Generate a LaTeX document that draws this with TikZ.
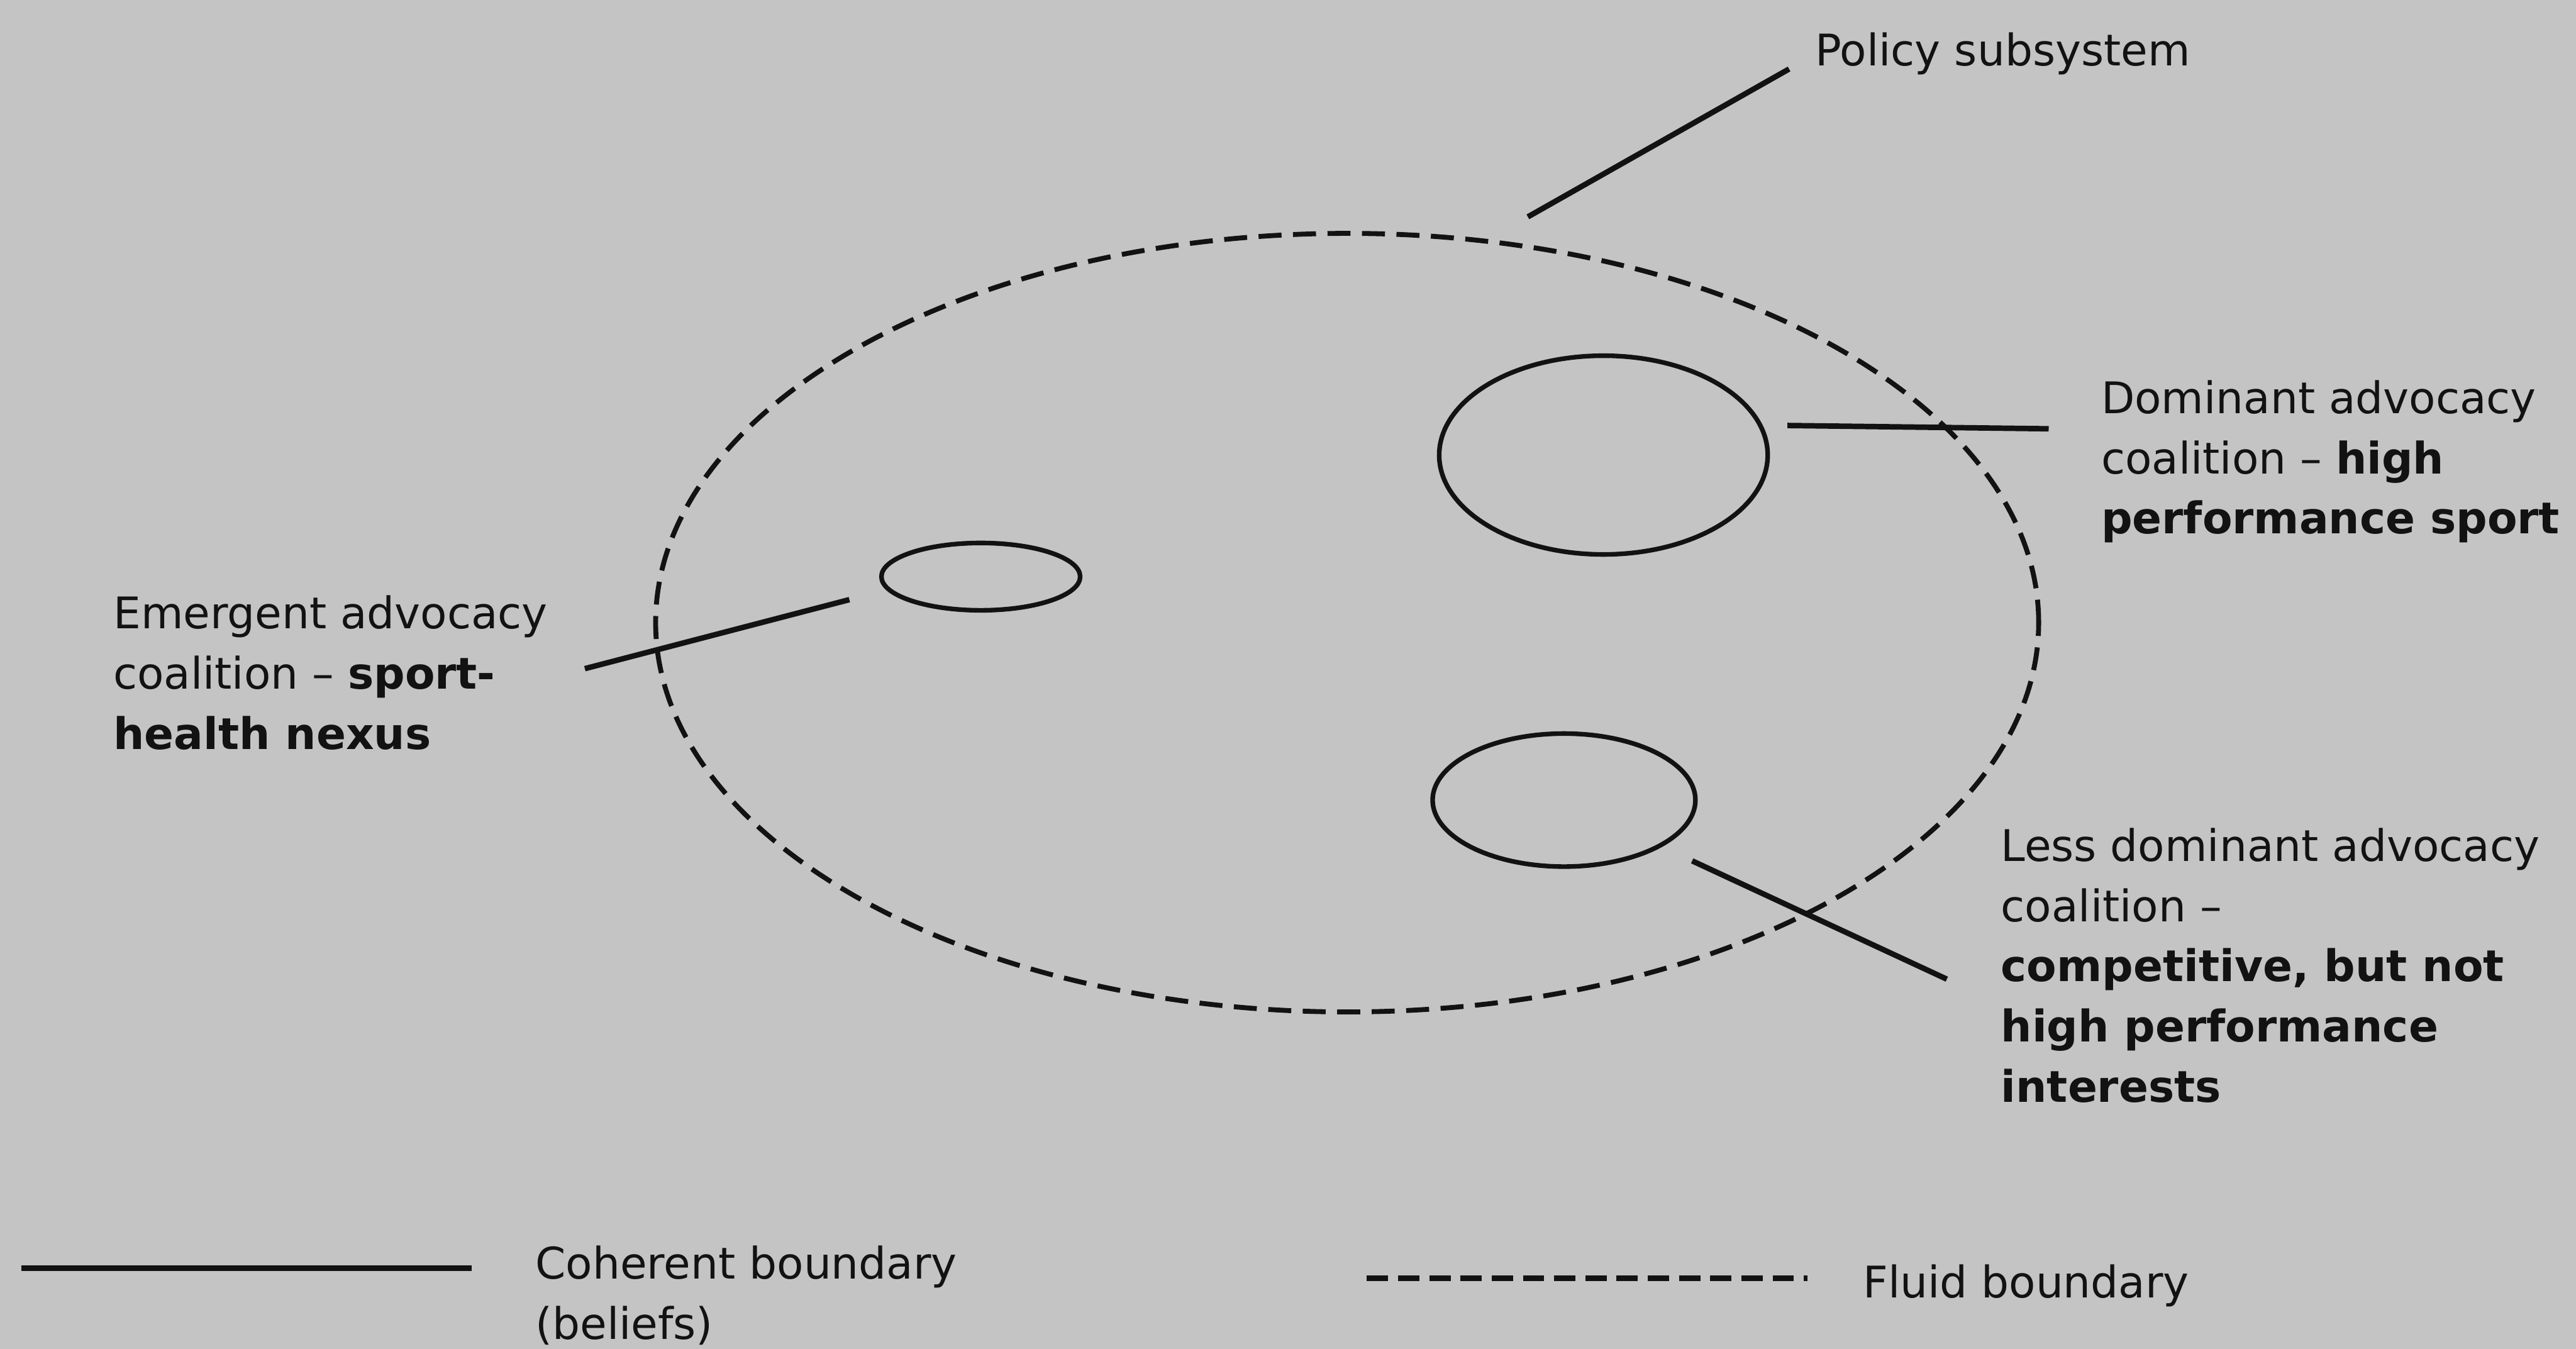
\documentclass[tikz,border=0pt]{standalone}
\usepackage{fontspec}
\setmainfont{DejaVu Sans}
\usetikzlibrary{shapes.geometric}
\definecolor{bg}{RGB}{196,196,196}
\definecolor{ink}{RGB}{18,18,18}
\begin{document}
\begin{tikzpicture}[x=0.02cm,y=-0.02cm,
  lab/.style={font=\fontsize{15.1}{20.9}\selectfont, text=ink, align=left, anchor=base west, inner sep=0pt, outer sep=0pt},
  coal/.style={ellipse, draw=ink, line width=1.6pt, inner sep=0pt, outer sep=0pt},
  lead/.style={draw=ink, line width=1.9pt},
  fluid/.style={draw=ink, line width=1.7pt, dash pattern=on 0.28cm off 0.14cm},
  fluidleg/.style={draw=ink, line width=1.9pt, dash pattern=on 0.26cm off 0.12cm}]
\fill[bg] (0,0) rectangle (1568,821);
\useasboundingbox (0,0) rectangle (1568,821);

% policy subsystem (fluid boundary)
\node[ellipse, fluid, inner sep=0pt, outer sep=0pt, minimum width=16.84cm, minimum height=9.48cm] (sub) at (820,379) {};

% coalitions
\node[coal, minimum width=4.0cm, minimum height=2.42cm] (dom) at (976,277) {};
\node[coal, minimum width=3.2cm, minimum height=1.62cm] (less) at (952,487) {};
\node[coal, minimum width=2.42cm, minimum height=0.82cm] (emg) at (597,351) {};

% labels (base anchor = baseline of the last line)
\node[lab] (tpol) at (1105,40) {Policy subsystem};
\node[lab] (tdom) at (1279,325) {Dominant advocacy\\coalition – \textbf{high}\\\textbf{performance sport}};
\node[lab] (temg) at (69,456) {Emergent advocacy\\coalition – \textbf{sport-}\\\textbf{health nexus}};
\node[lab] (tless) at (1218,671) {Less dominant advocacy\\coalition –\\\textbf{competitive, but not}\\\textbf{high performance}\\\textbf{interests}};
\node[lab] (tcoh) at (326,815) {Coherent boundary\\(beliefs)};
\node[lab] (tflu) at (1134,790) {Fluid boundary};

% leader lines
\coordinate (pa) at (930,132);  \coordinate (pb) at (1089,42);
\coordinate (da) at (1088,259); \coordinate (db) at (1247,261);
\coordinate (ea) at (517,365);  \coordinate (eb) at (356,407);
\coordinate (la) at (1030,524); \coordinate (lb) at (1185,596);
\draw[lead] (pa) -- (pb);
\draw[lead] (da) -- (db);
\draw[lead] (ea) -- (eb);
\draw[lead] (la) -- (lb);

% legend
\coordinate (ca) at (13,772);  \coordinate (cb) at (287,772);
\coordinate (fa) at (832,778); \coordinate (fb) at (1100,778);
\draw[lead] (ca) -- (cb);
\draw[fluidleg] (fa) -- (fb);
\end{tikzpicture}
\end{document}
